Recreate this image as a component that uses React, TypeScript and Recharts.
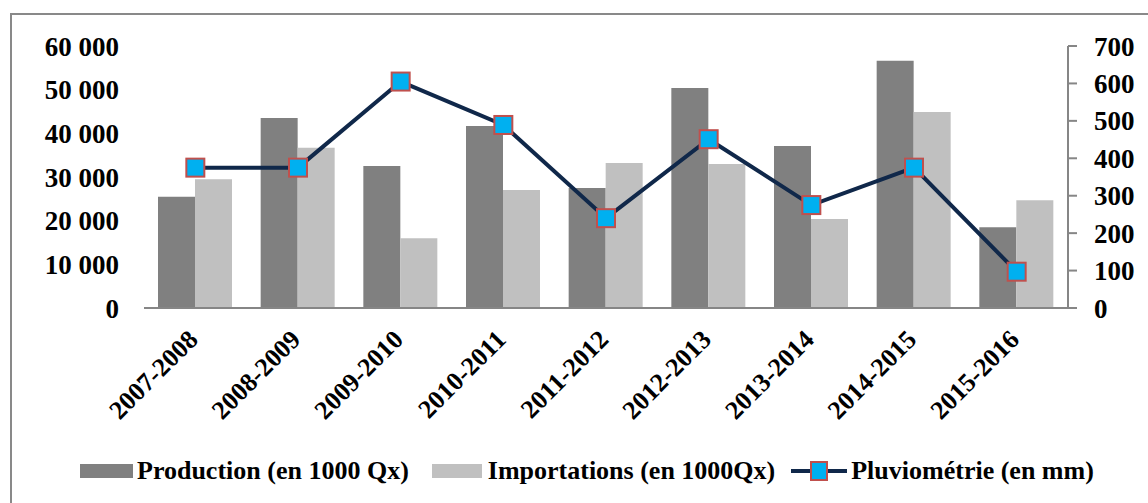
import React from 'react';
import { ComposedChart, Bar, Line, XAxis, YAxis, Legend } from 'recharts';

// Campaign years
const seasons = ['2007-2008', '2008-2009', '2009-2010', '2010-2011', '2011-2012', '2012-2013', '2013-2014', '2014-2015', '2015-2016'];
// Production (1000 Qx)
const production = [25500, 43500, 32500, 41700, 27500, 50400, 37100, 56600, 18500];
// Importations (1000 Qx)
const importations = [29500, 36700, 16000, 27000, 33200, 33000, 20400, 44900, 24700];
// Rainfall (mm)
const rainfall = [375, 375, 605, 489, 240, 451, 275, 375, 97];

const leftTicks = [0, 10000, 20000, 30000, 40000, 50000, 60000];
const rightTicks = [0, 100, 200, 300, 400, 500, 600, 700];

const data = seasons.map((s, i) => ({
  season: s,
  production: production[i],
  importations: importations[i],
  rainfall: rainfall[i],
}));

const FONT = '"Liberation Serif"';

const fmtThousands = (v: number) => String(v).replace(/\B(?=(\d{3})+(?!\d))/g, ' ');

const SeasonTick = (props: any) => {
  const { x, y, payload } = props;
  return (
    <g transform={`translate(${x + 4},${y + 25}) rotate(-45)`}>
      <text x={0} y={0} textAnchor="end" fontFamily={FONT} fontWeight="bold" fontSize={26} fill="#000">
        {payload.value}
      </text>
    </g>
  );
};

const SquareDot = (props: any) => {
  const { cx, cy, index } = props;
  if (cx == null || cy == null) return null;
  return <rect key={`dot-${index}`} x={cx - 9} y={cy - 9} width={18} height={18} fill="#00b0f0" stroke="#c0504d" strokeWidth={2} />;
};

const LegendContent = () => {
  const textStyle: React.CSSProperties = { fontFamily: FONT, fontWeight: 'bold', fontSize: 26, color: '#000', whiteSpace: 'nowrap' };
  return (
    <div style={{ display: 'flex', alignItems: 'center', width: 1148, paddingLeft: 80, boxSizing: 'border-box' }}>
      <div style={{ width: 53, height: 14, background: '#808080', marginRight: 4 }} />
      <span style={textStyle}>Production (en 1000 Qx)</span>
      <div style={{ width: 50, height: 14, background: '#c0c0c0', marginLeft: 23, marginRight: 6 }} />
      <span style={textStyle}>Importations (en 1000Qx)</span>
      <svg width={56} height={22} style={{ marginLeft: 16, marginRight: 4 }}>
        <line x1={0} y1={11} x2={56} y2={11} stroke="#10284a" strokeWidth={4} />
        <rect x={20} y={2} width={16} height={18} fill="#00b0f0" stroke="#c0504d" strokeWidth={2} />
      </svg>
      <span style={textStyle}>Pluviométrie (en mm)</span>
    </div>
  );
};

const axisTickStyle = { fontFamily: FONT, fontWeight: 'bold', fontSize: 27, fill: '#000' };

export default function App() {
  return (
    <div style={{ position: 'fixed', left: 0, top: 0, width: 1148, height: 503, background: '#fff', overflow: 'hidden' }}>
      <div style={{ position: 'absolute', left: 10, top: 13, width: 1160, height: 520, border: '2px solid #898989', boxSizing: 'border-box' }} />
      <div style={{ position: 'absolute', left: 0, top: 0 }}>
        <ComposedChart
          width={1148}
          height={503}
          data={data}
          margin={{ top: 46, right: 0, left: 0, bottom: 85 }}
          barGap={0}
          barCategoryGap="14%"
        >
          <XAxis
            dataKey="season"
            height={110}
            interval={0}
            tickLine={false}
            axisLine={{ stroke: '#868686', strokeWidth: 2 }}
            tick={<SeasonTick />}
          />
          <YAxis
            yAxisId="left"
            orientation="left"
            width={144}
            domain={[0, 60000]}
            ticks={leftTicks}
            interval={0}
            axisLine={false}
            tickLine={false}
            tickMargin={19}
            tickFormatter={fmtThousands}
            tick={axisTickStyle}
          />
          <YAxis
            yAxisId="right"
            orientation="right"
            width={80}
            domain={[0, 700]}
            ticks={rightTicks}
            interval={0}
            axisLine={{ stroke: '#868686', strokeWidth: 2 }}
            tickLine={{ stroke: '#868686', strokeWidth: 2 }}
            tickSize={9}
            tickMargin={17}
            tick={{ ...axisTickStyle, textAnchor: 'start' }}
          />
          <Legend verticalAlign="middle" align="center" layout="horizontal" wrapperStyle={{ top: 456, left: 0, width: 1148 }} content={<LegendContent />} />
          <Bar yAxisId="left" dataKey="production" name="Production (en 1000 Qx)" fill="#808080" barSize={37} isAnimationActive={false} />
          <Bar yAxisId="left" dataKey="importations" name="Importations (en 1000Qx)" fill="#c0c0c0" barSize={37} isAnimationActive={false} />
          <Line
            yAxisId="right"
            dataKey="rainfall"
            name="Pluviométrie (en mm)"
            type="linear"
            stroke="#10284a"
            strokeWidth={4}
            dot={<SquareDot />}
            activeDot={false}
            isAnimationActive={false}
          />
        </ComposedChart>
      </div>
    </div>
  );
}
